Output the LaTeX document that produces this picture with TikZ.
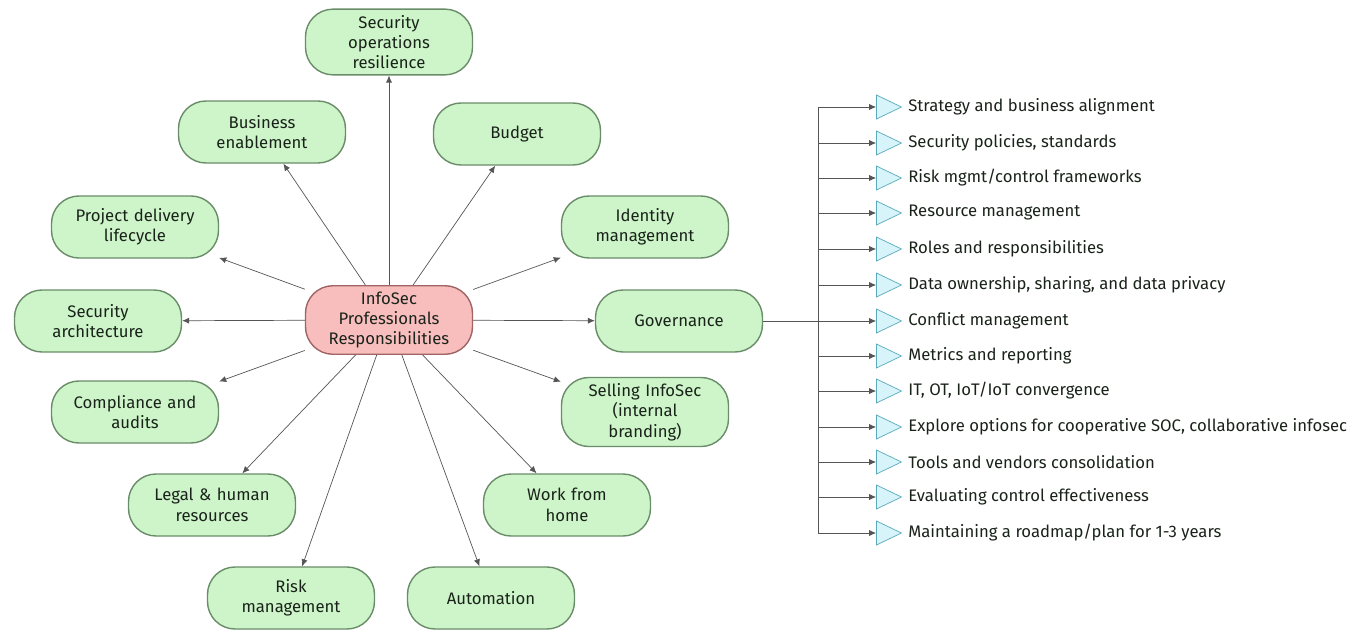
\documentclass[tikz,border=0pt]{standalone}
\usepackage{fontspec}
\setmainfont{Fira Sans}
\usetikzlibrary{arrows.meta,positioning,shapes.geometric}

\definecolor{dutyfill}{RGB}{206,245,202}
\definecolor{dutyedge}{RGB}{105,140,105}
\definecolor{corefill}{RGB}{248,190,190}
\definecolor{coreedge}{RGB}{160,100,100}
\definecolor{wire}{RGB}{85,85,85}
\definecolor{markfill}{RGB}{214,244,249}
\definecolor{markedge}{RGB}{90,170,187}
\definecolor{ink}{RGB}{25,35,25}
\newcommand\boxfont{\fontsize{9.5}{11.6}\selectfont}

\begin{document}
\begin{tikzpicture}[x=0.2mm, y=-0.2mm,
                    every duty/.style = {fill=dutyfill, draw=dutyedge},
                    duty/.style = {rectangle, rounded corners=5.5mm, line width=0.8pt, minimum width=33.4mm, minimum height=12.4mm,
                            text width=31mm, align=center, text=ink, font=\boxfont, every duty},
                    core duty/.style = {duty, fill=corefill, draw=coreedge},
                    owner/.style = {<-, >={Latex[length=4pt,width=3.5pt]}, draw=wire, thin},
                    task marker/.style = {isosceles triangle, isosceles triangle stretches, shape border rotate=0,
                            minimum width=4.8mm, minimum height=5mm, inner sep=0pt, fill=markfill, draw=markedge},
                    task/.style = {anchor=west, inner sep=0pt, text=ink, font=\boxfont},
                    feed/.style = {-{Latex[length=4pt,width=3.5pt]}, draw=wire, thin},
                    bus/.style = {draw=wire, thin} ]

                \useasboundingbox (0,0) rectangle (1368,633);

                \node [core duty] (InfoSec) at (389,320) {InfoSec\\Professionals\\Responsibilities};

                % ring of responsibilities
                \node [duty] (SecOps) at (389,42) {Security\\operations\\resilience} edge [owner] (InfoSec);
                \node [duty] (Business) at (262,132) {Business\\enablement} edge [owner] (InfoSec);
                \node [duty] (Budget) at (517,134) {Budget} edge [owner] (InfoSec);
                \node [duty] (ProjectDelivery) at (135,227) {Project delivery\\lifecycle} edge [owner] (InfoSec);
                \node [duty] (Identity) at (645,227) {Identity\\management} edge [owner] (InfoSec);
                \node [duty] (SecArchitecture) at (98,321) {Security\\architecture} edge [owner] (InfoSec);
                \node [duty] (Governance) at (679,321) {Governance} edge [owner] (InfoSec);
                \node [duty] (Compliance) at (135,412) {Compliance and\\audits} edge [owner] (InfoSec);
                \node [duty] (Selling) at (645,412) {Selling InfoSec\\(internal\\branding)} edge [owner] (InfoSec);
                \node [duty] (Legal) at (212,505) {Legal \& human\\resources} edge [owner] (InfoSec);
                \node [duty] (WorkFromHome) at (567,505) {Work from\\home} edge [owner] (InfoSec);
                \node [duty] (Risk) at (291,598) {Risk\\management} edge [owner] (InfoSec);
                \node [duty] (Automation) at (491,598) {Automation} edge [owner] (InfoSec);

                % governance topics
                \coordinate (Bus) at (818,321);
                \node [task marker] (m1) at (884,107) {};
                \node [task marker] (m2) at (884,143) {};
                \node [task marker] (m3) at (884,178) {};
                \node [task marker] (m4) at (884,213) {};
                \node [task marker] (m5) at (884,249) {};
                \node [task marker] (m6) at (884,285) {};
                \node [task marker] (m7) at (884,321) {};
                \node [task marker] (m8) at (884,356) {};
                \node [task marker] (m9) at (884,391) {};
                \node [task marker] (m10) at (884,427) {};
                \node [task marker] (m11) at (884,462) {};
                \node [task marker] (m12) at (884,497) {};
                \node [task marker] (m13) at (884,533) {};

                \node [task] (t1) at (908,107) {Strategy and business alignment};
                \node [task] (t2) at (908,143) {Security policies, standards};
                \node [task] (t3) at (908,178) {Risk mgmt/control frameworks};
                \node [task] (t4) at (908,213) {Resource management};
                \node [task] (t5) at (908,249) {Roles and responsibilities};
                \node [task] (t6) at (908,285) {Data ownership, sharing, and data privacy};
                \node [task] (t7) at (908,321) {Conflict management};
                \node [task] (t8) at (908,356) {Metrics and reporting};
                \node [task] (t9) at (908,391) {IT, OT, IoT/IoT convergence};
                \node [task] (t10) at (908,427) {Explore options for cooperative SOC, collaborative infosec};
                \node [task] (t11) at (908,462) {Tools and vendors consolidation};
                \node [task] (t12) at (908,497) {Evaluating control effectiveness};
                \node [task] (t13) at (908,533) {Maintaining a roadmap/plan for 1-3 years};

                \draw [bus] (Governance.east) -- (Bus);
                \draw [bus] (m1 -| Bus) -- (m13 -| Bus);
                \draw [feed] (m1 -| Bus) -- (m1);
                \draw [feed] (m2 -| Bus) -- (m2);
                \draw [feed] (m3 -| Bus) -- (m3);
                \draw [feed] (m4 -| Bus) -- (m4);
                \draw [feed] (m5 -| Bus) -- (m5);
                \draw [feed] (m6 -| Bus) -- (m6);
                \draw [feed] (m7 -| Bus) -- (m7);
                \draw [feed] (m8 -| Bus) -- (m8);
                \draw [feed] (m9 -| Bus) -- (m9);
                \draw [feed] (m10 -| Bus) -- (m10);
                \draw [feed] (m11 -| Bus) -- (m11);
                \draw [feed] (m12 -| Bus) -- (m12);
                \draw [feed] (m13 -| Bus) -- (m13);
\end{tikzpicture}
\end{document}
